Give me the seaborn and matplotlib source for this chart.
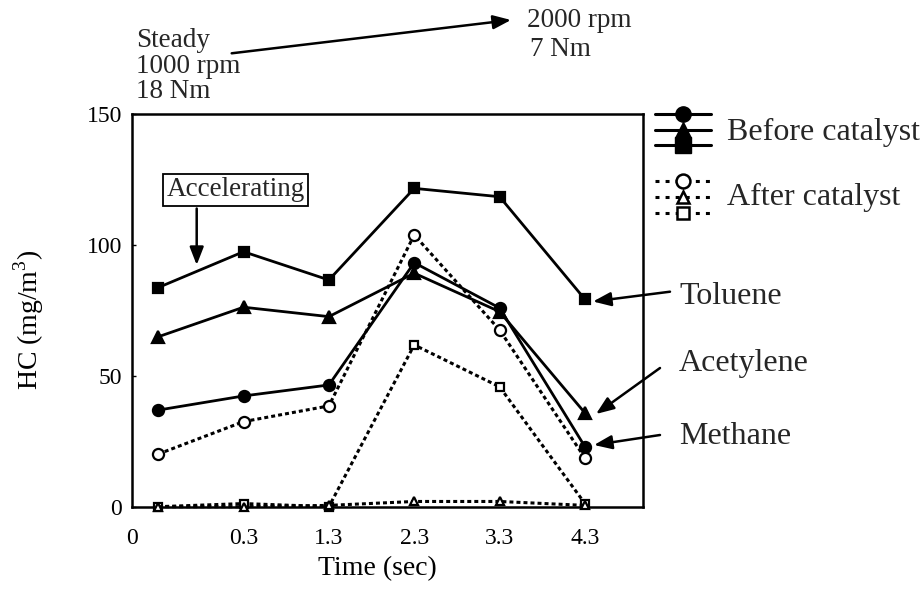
import matplotlib
matplotlib.use("Agg")
import matplotlib.pyplot as plt
from matplotlib.lines import Line2D
import seaborn as sns
import pandas as pd
import numpy as np

# ---------------- data ----------------
time_labels = ["0", "0.3", "1.3", "2.3", "3.3", "4.3"]
toluene_before = [83.7, 97.4, 86.6, 121.6, 118.4, 79.2]
acetylene_before = [64.9, 76.2, 72.6, 89.2, 74.5, 35.8]
methane_before = [36.9, 42.3, 46.5, 93.2, 75.9, 22.9]
methane_after = [20.1, 32.5, 38.5, 103.8, 67.5, 18.6]
toluene_after = [0.0, 1.2, 0.0, 61.8, 45.8, 1.2]
acetylene_after = [0.0, 0.0, 0.5, 2.0, 2.0, 0.5]

sns.set_theme(style="white")
plt.rcParams["font.family"] = ["Liberation Serif", "DejaVu Serif"]
plt.rcParams["mathtext.fontset"] = "custom"
plt.rcParams["mathtext.rm"] = "Liberation Serif"

W, H = 923, 610
fig = plt.figure(figsize=(W / 100, H / 100), dpi=100)
L, R, T, B = 131.7, 643.0, 114.0, 506.7
ax = fig.add_axes([L / W, 1 - B / H, (R - L) / W, (B - T) / H])

pos = list(range(len(time_labels)))
series = [
    (toluene_before, "s", "solid", "black", 7.5),
    (acetylene_before, "^", "solid", "black", 9),
    (methane_before, "o", "solid", "black", 8),
    (methane_after, "o", "dotted", "white", 8),
    (toluene_after, "s", "dotted", "white", 5.5),
    (acetylene_after, "^", "dotted", "white", 6),
]
for vals, mk, ls, fc, ms in series:
    df = pd.DataFrame({"t": pos, "v": vals})
    kw = dict(lw=2.0, color="black", marker=mk, markersize=ms,
              markerfacecolor=fc, markeredgecolor="black", markeredgewidth=1.6,
              clip_on=False, zorder=3)
    if ls == "dotted":
        kw["dashes"] = (1.3, 1.0)
        kw["lw"] = 2.2
    sns.lineplot(data=df, x="t", y="v", ax=ax, **kw)

ax.set_xlim(-0.31, 5.68)
ax.set_ylim(0, 150)
ax.set_xticks([-0.31] + pos[1:])
ax.set_xticklabels(time_labels)
ax.set_yticks([0, 50, 100, 150])
ax.tick_params(axis="x", length=0, pad=15, labelsize=17, colors="black")
ax.tick_params(axis="y", direction="in", length=3, width=1, pad=7,
               labelsize=17, colors="black", left=True)
for s in ax.spines.values():
    s.set_color("black")
    s.set_linewidth(1.8)

ax.set_xlabel("Time (sec)", fontsize=20, color="black")
ax.xaxis.set_label_coords((377 - L) / (R - L), -(556 - B) / (B - T))
ax.xaxis.label.set_va("top")
ax.set_ylabel("HC (mg/m$^{\\mathrm{3}}$)", fontsize=20, color="black")
ax.yaxis.set_label_coords(-(L - 46) / (R - L), 0.5 - (320 - (T + B) / 2) / (B - T))

# ---------------- overlay in pixel coordinates ----------------
ov = fig.add_axes([0, 0, 1, 1], zorder=10)
ov.set_xlim(0, W)
ov.set_ylim(H, 0)
ov.axis("off")
ov.patch.set_alpha(0)

arrow = dict(arrowstyle="-|>,head_length=0.9,head_width=0.35", color="black",
             lw=1.8, shrinkA=0, shrinkB=0)

# top annotation
for txt, y in [("Steady", 46.7), ("1000 rpm", 72.7), ("18 Nm", 98.3)]:
    ov.text(136, y, txt, fontsize=19.5, va="baseline", ha="left")
for txt, x, y in [("2000 rpm", 527, 27), ("7 Nm", 530, 56.5)]:
    ov.text(x, y, txt, fontsize=19.5, va="baseline", ha="left")
ov.annotate("", xy=(511, 20), xytext=(231.7, 53.3), arrowprops=arrow)

# accelerating box
ov.text(235.7, 190, "Accelerating", fontsize=19.5, ha="center", va="center",
        bbox=dict(boxstyle="square,pad=0.12", fc="white", ec="black", lw=1.3))
ov.annotate("", xy=(196.7, 265), xytext=(196.7, 208.5), arrowprops=arrow)

# species labels with arrows
for txt, ty, start, tip in [
    ("Toluene", 297, (670, 291.7), (593, 301.5)),
    ("Acetylene", 363, (660, 368), (596, 414)),
    ("Methane", 437, (660, 435), (594, 445)),
]:
    ov.text(679, ty, txt, fontsize=23, va="center", ha="left")
    ov.annotate("", xy=tip, xytext=start, arrowprops=arrow)

# legend
for y, mk, ms in [(114, "o", 11), (130, "^", 11), (145, "s", 11)]:
    ov.add_line(Line2D([655, 711], [y, y], color="black", lw=2.2))
    ov.plot([683], [y], marker=mk, ms=ms, mfc="black", mec="black", ls="none")
ov.text(727, 132, "Before catalyst", fontsize=23, va="center", ha="left")
for y, mk, ms in [(181, "o", 10), (197, "^", 9), (213, "s", 9)]:
    ov.add_line(Line2D([655, 711], [y, y], color="black", lw=2.2,
                       dashes=(1.3, 2.0)))
    ov.plot([683], [y], marker=mk, ms=ms, mfc="white", mec="black", mew=1.8,
            ls="none")
ov.text(727, 197, "After catalyst", fontsize=23, va="center", ha="left")

fig.savefig("out.png", dpi=100, facecolor="white")
